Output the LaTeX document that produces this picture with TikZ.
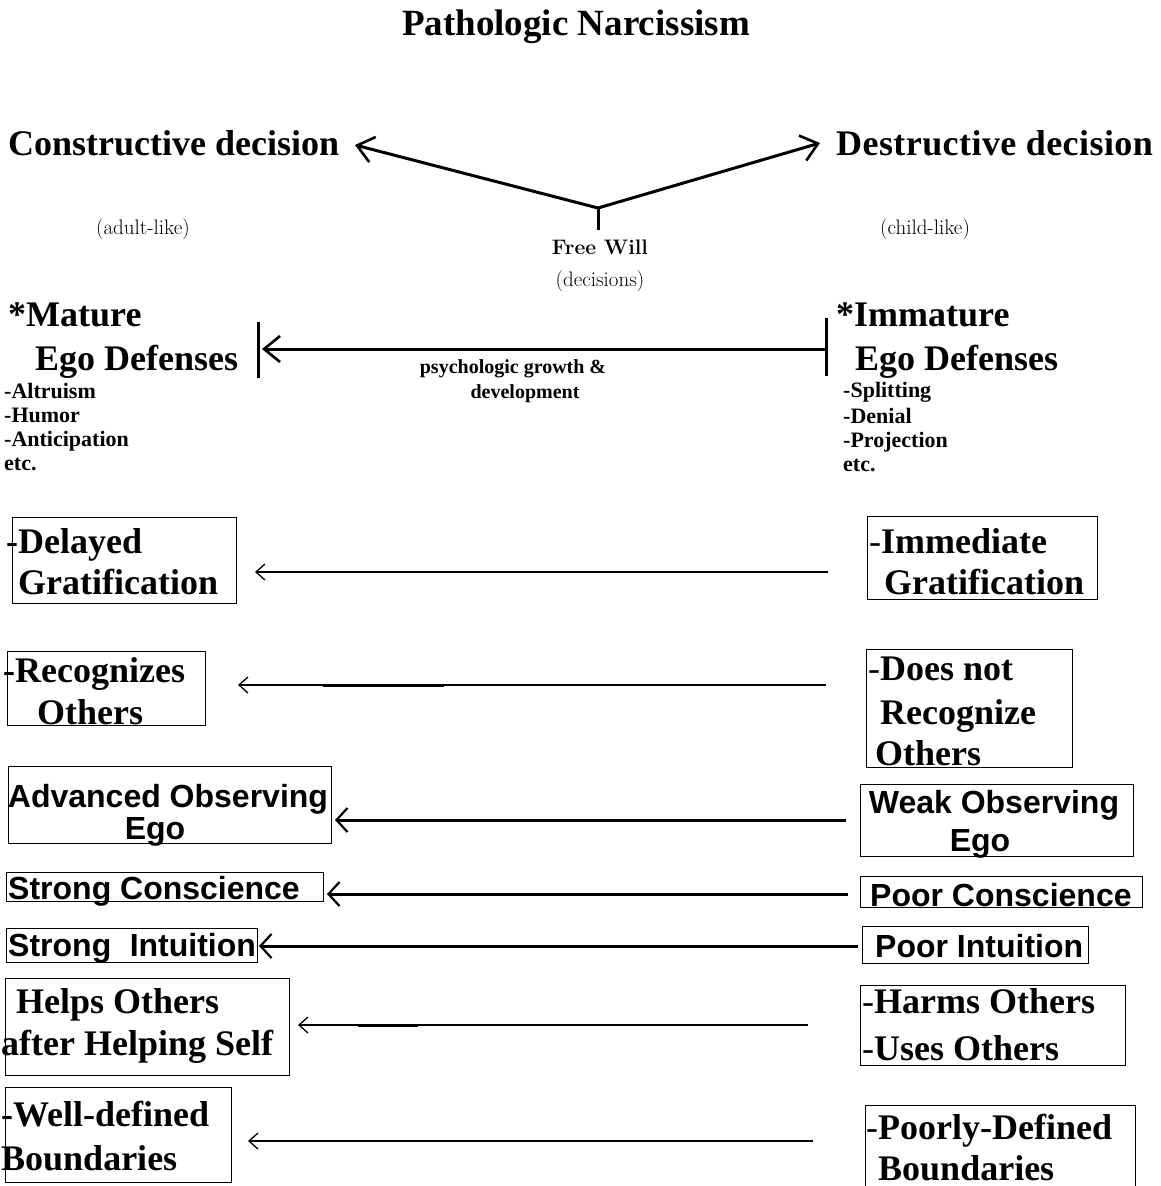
\documentclass[tikz,border=0pt]{standalone}
\usepackage{fontspec}
\newfontfamily\tnr{Liberation Serif}
\newfontfamily\tnrw[LetterSpace=1.2]{Liberation Serif}
\newfontfamily\ari{Liberation Sans}
\usetikzlibrary{arrows.meta}
\newcommand\bigser{\tnr\bfseries\fontsize{36}{40}\selectfont}
\newcommand\bigserw{\tnrw\bfseries\fontsize{36}{40}\selectfont}
\newcommand\bigsans{\ari\bfseries\fontsize{32}{36}\selectfont}
\newcommand\smallser{\tnr\bfseries\fontsize{20}{24}\selectfont}
\newcommand\listser{\tnr\bfseries\fontsize{22}{24}\selectfont}
\newcommand\lmsmall{\rmfamily\fontsize{21}{24}\selectfont}
\begin{document}
\begin{tikzpicture}[x=1pt,y=-1pt,
  txt/.style={anchor=base west,inner sep=0pt},
  ctxt/.style={anchor=base,inner sep=0pt},
  boxst/.style={draw,line width=1.3pt,anchor=north west,inner sep=0pt},
  thinarr/.style={line width=1.3pt,-{Straight Barb[length=9pt,width=16pt,line width=1.3pt]}},
  thickarr/.style={line width=3pt,-{Straight Barb[length=11pt,width=24pt,line width=2.2pt]}},
  toparr/.style={line width=3pt,-{Straight Barb[length=16pt,width=26pt,line width=2.6pt]}},
  bar/.style={line width=3pt}]
\useasboundingbox (0,0) rectangle (1160,1186);
\fill[white] (0,0) rectangle (1160,1186);

% title
\node[txt,font=\tnr\bfseries\fontsize{37}{40}\selectfont] (title) at (402,35) {Pathologic Narcissism};

% decisions
\node[txt,font=\bigser] (con) at (8,155) {Constructive decision};
\node[txt,font=\bigserw] (des) at (836,155) {Destructive decision};
\node[ctxt,font=\lmsmall] (adult) at (143,234) {(adult-like)};
\node[ctxt,font=\lmsmall] (child) at (925,234) {(child-like)};
\node[ctxt,font=\rmfamily\bfseries\fontsize{21}{24}\selectfont] (fw) at (600,254) {Free Will};
\node[ctxt,font=\lmsmall] (dec) at (600,286) {(decisions)};

\coordinate (J) at (598,208);
\coordinate (Js) at (598,230);
\coordinate (Jl) at (355,145);
\coordinate (Jr) at (820,143);
\draw[bar] (Js) -- (J);
\draw[toparr] (J) -- (Jl);
\draw[toparr] (J) -- (Jr);

% ego defenses
\node[txt,font=\bigser] (mat1) at (8,326) {*Mature};
\node[txt,font=\bigser] (mat2) at (35,370) {Ego Defenses};
\node[txt,font=\bigser] (imm1) at (836,326) {*Immature};
\node[txt,font=\bigser] (imm2) at (855,370) {Ego Defenses};

\coordinate (bl1) at (258,322); \coordinate (bl2) at (258,378);
\coordinate (br1) at (826,318); \coordinate (br2) at (826,376);
\coordinate (gs) at (826,349); \coordinate (ge) at (262,349);
\draw[bar] (bl1) -- (bl2);
\draw[bar] (br1) -- (br2);
\draw[toparr] (gs) -- (ge);
\node[ctxt,font=\smallser] (pg1) at (513,373) {psychologic growth \&};
\node[ctxt,font=\smallser] (pg2) at (525,398) {development};

\node[txt,font=\listser] (la) at (4,398) {-Altruism};
\node[txt,font=\listser] (lb) at (4,422) {-Humor};
\node[txt,font=\listser] (lc) at (4,446) {-Anticipation};
\node[txt,font=\listser] (ld) at (4,470) {etc.};
\node[txt,font=\listser] (ra) at (843,397) {-Splitting};
\node[txt,font=\listser] (rb) at (843,423) {-Denial};
\node[txt,font=\listser] (rc) at (843,447) {-Projection};
\node[txt,font=\listser] (rd) at (843,471) {etc.};

% row 1
\node[boxst,minimum width=224pt,minimum height=86pt] (L1) at (12,517) {};
\node[txt,font=\bigser] (L1a) at (6,553) {-Delayed};
\node[txt,font=\bigser] (L1b) at (18,594) {Gratification};
\node[boxst,minimum width=230pt,minimum height=83pt] (R1) at (867,516) {};
\node[txt,font=\bigser] (R1a) at (869,553) {{\mdseries -}Immediate};
\node[txt,font=\bigser] (R1b) at (884,594) {Gratification};
\coordinate (a1s) at (828,572); \coordinate (a1e) at (255,572);
\draw[thinarr] (a1s) -- (a1e);

% row 2
\node[boxst,minimum width=198pt,minimum height=74pt] (L2) at (7,651) {};
\node[txt,font=\bigser] (L2a) at (3,682) {-Recognizes};
\node[txt,font=\bigser] (L2b) at (37,724) {Others};
\node[boxst,minimum width=206pt,minimum height=118pt] (R2) at (866,649) {};
\node[txt,font=\bigser] (R2a) at (868,680) {{\mdseries -}Does not};
\node[txt,font=\bigser] (R2b) at (880,724) {Recognize};
\node[txt,font=\bigser] (R2c) at (875,765) {Others};
\coordinate (a2s) at (826,685); \coordinate (a2e) at (238,685);
\draw[thinarr] (a2s) -- (a2e);
\coordinate (a2t1) at (323,685); \coordinate (a2t2) at (444,685);
\draw[line width=3pt] (a2t1) -- (a2t2);

% row 3
\node[boxst,minimum width=323pt,minimum height=77pt] (L3) at (8,766) {};
\node[ctxt,font=\bigsans] (L3a) at (168,807) {Advanced Observing};
\node[ctxt,font=\bigsans] (L3b) at (155,839) {Ego};
\node[boxst,minimum width=273pt,minimum height=72pt] (R3) at (860,784) {};
\node[ctxt,font=\bigsans] (R3a) at (994,813) {Weak Observing};
\node[ctxt,font=\bigsans] (R3b) at (980,851) {Ego};
\coordinate (a3s) at (846,820); \coordinate (a3e) at (335,820);
\draw[thickarr] (a3s) -- (a3e);

% row 4
\node[boxst,minimum width=317pt,minimum height=29pt] (L4) at (6,872) {};
\node[txt,font=\bigsans] (L4a) at (8,899) {Strong Conscience};
\node[boxst,minimum width=282pt,minimum height=31pt] (R4) at (860,876) {};
\node[txt,font=\bigsans] (R4a) at (870,906) {Poor Conscience};
\coordinate (a4s) at (848,894); \coordinate (a4e) at (327,894);
\draw[thickarr] (a4s) -- (a4e);

% row 5
\node[boxst,minimum width=251pt,minimum height=34pt] (L5) at (6,928) {};
\node[txt,font=\bigsans] (L5a) at (8,956) {Strong\hspace{0.3em} Intuition};
\node[boxst,minimum width=226pt,minimum height=37pt] (R5) at (862,926) {};
\node[txt,font=\bigsans] (R5a) at (875,957) {Poor Intuition};
\coordinate (a5s) at (858,946); \coordinate (a5e) at (259,946);
\draw[thickarr] (a5s) -- (a5e);

% row 6
\node[boxst,minimum width=284pt,minimum height=97pt] (L6) at (5,978) {};
\node[txt,font=\bigser] (L6a) at (16,1013) {Helps Others};
\node[txt,font=\bigser] (L6b) at (1,1055) {after Helping Self};
\node[boxst,minimum width=265pt,minimum height=80pt] (R6) at (860,985) {};
\node[txt,font=\bigser] (R6a) at (862,1013) {{\mdseries -}Harms Others};
\node[txt,font=\bigser] (R6b) at (862,1060) {{\mdseries -}Uses Others};
\coordinate (a6s) at (808,1025); \coordinate (a6e) at (298,1025);
\draw[thinarr] (a6s) -- (a6e);
\coordinate (a6t1) at (358,1025); \coordinate (a6t2) at (418,1025);
\draw[line width=3pt] (a6t1) -- (a6t2);

% row 7
\node[boxst,minimum width=226pt,minimum height=95pt] (L7) at (5,1087) {};
\node[txt,font=\bigser] (L7a) at (1,1126) {-Well-defined};
\node[txt,font=\bigser] (L7b) at (1,1170) {Boundaries};
\node[boxst,minimum width=270pt,minimum height=90pt] (R7) at (865,1105) {};
\node[txt,font=\bigser] (R7a) at (866,1139) {{\mdseries -}Poorly-Defined};
\node[txt,font=\bigser] (R7b) at (878,1180) {Boundaries};
\coordinate (a7s) at (813,1141); \coordinate (a7e) at (248,1141);
\draw[thinarr] (a7s) -- (a7e);
\end{tikzpicture}
\end{document}
